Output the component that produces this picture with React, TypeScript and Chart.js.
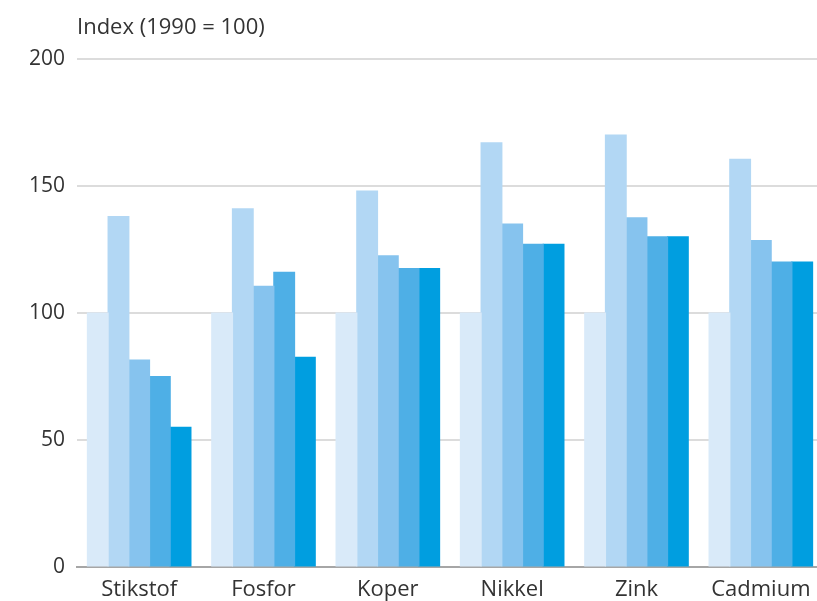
import React, { useEffect, useRef } from "react";
import { Chart, registerables } from "chart.js";

Chart.register(...registerables);

const categories = ["Stikstof", "Fosfor", "Koper", "Nikkel", "Zink", "Cadmium"];
const series1 = [100, 100, 100, 100, 100, 100];
const series2 = [138, 141, 148, 167, 170, 160.5];
const series3 = [81.5, 110.5, 122.5, 135, 137.5, 128.5];
const series4 = [75, 116, 117.5, 127, 130, 120];
const series5 = [55, 82.5, 117.5, 127, 130, 120];
const seriesNames = ["1990", "serie 2", "serie 3", "serie 4", "serie 5"];
const seriesColors = ["#d9eaf9", "#b2d7f4", "#86c3ee", "#4eafe6", "#009ee0"];
const yTicks = [0, 50, 100, 150, 200];
const titleText = "Index (1990 = 100)";

const FONT = "'Open Sans', 'DejaVu Sans', sans-serif";

export default function App() {
  const ref = useRef<HTMLCanvasElement | null>(null);

  useEffect(() => {
    if (!ref.current) return;
    const allSeries = [series1, series2, series3, series4, series5];
    const titlePlugin = {
      id: "topTitle",
      afterDraw(chart: any) {
        const ctx = chart.ctx;
        ctx.save();
        ctx.font = `22px ${FONT}`;
        ctx.fillStyle = "#333333";
        ctx.textAlign = "left";
        ctx.textBaseline = "middle";
        ctx.fillText(titleText, chart.chartArea.left, 28);
        ctx.restore();
      },
    };
    const chart = new Chart(ref.current, {
      type: "bar",
      data: {
        labels: categories,
        datasets: allSeries.map((d, i) => ({
          label: seriesNames[i],
          data: d,
          backgroundColor: seriesColors[i],
          borderWidth: 0,
          inflateAmount: 0.6,
          categoryPercentage: 0.832,
          barPercentage: 1,
        })),
      },
      options: {
        animation: false,
        responsive: false,
        devicePixelRatio: 1,
        layout: { padding: { top: 59, right: 3, left: 0, bottom: 0 } },
        plugins: {
          legend: { display: false },
          tooltip: { enabled: false },
          title: { display: false },
        },
        scales: {
          x: {
            grid: { display: false, drawTicks: false },
            border: { display: true, color: "#a6a6a6", width: 2 },
            ticks: {
              padding: 10,
              color: "#333333",
              font: { family: FONT, size: 22 },
            },
            afterFit(scale: any) {
              scale.height = 34;
            },
          },
          y: {
            min: 0,
            max: 200,
            afterBuildTicks(scale: any) {
              scale.ticks = yTicks.map((v) => ({ value: v }));
            },
            grid: {
              drawTicks: false,
              color: (c: any) => (c.tick && c.tick.value === 0 ? "rgba(0,0,0,0)" : "#dcdcdc"),
              lineWidth: 2,
            },
            border: { display: false },
            ticks: {
              padding: 12,
              color: "#333333",
              font: { family: FONT, size: 21 },
            },
            afterFit(scale: any) {
              scale.width = 77;
            },
          },
        },
      },
      plugins: [titlePlugin],
    });
    return () => chart.destroy();
  }, []);

  return (
    <div
      style={{
        position: "fixed",
        left: 0,
        top: 0,
        width: 817,
        height: 601,
        overflow: "hidden",
        background: "#ffffff",
      }}
    >
      <canvas ref={ref} width={826} height={601} style={{ display: "block", width: 826, height: 601 }} />
    </div>
  );
}
